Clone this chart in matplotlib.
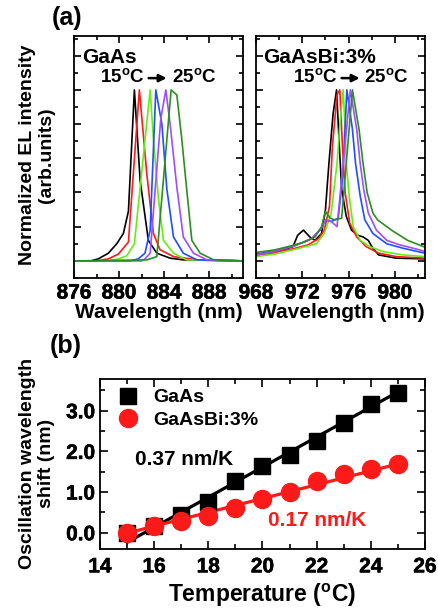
import numpy as np
import matplotlib
matplotlib.use('Agg')
import matplotlib.pyplot as plt
import matplotlib.patheffects as pe
from matplotlib.ticker import MultipleLocator

plt.rcParams['font.family'] = ['Liberation Sans', 'DejaVu Sans']
plt.rcParams['font.weight'] = 'bold'
plt.rcParams['axes.labelweight'] = 'bold'
plt.rcParams['mathtext.fontset'] = 'custom'
plt.rcParams['mathtext.rm'] = 'Liberation Sans:bold'
plt.rcParams['mathtext.bf'] = 'Liberation Sans:bold'

# cores das curvas, de 15 a 25 graus (passo de 2)
cores = ['black', '#ff1a1a', '#66ee11', '#1f4fff', '#a04cff', '#2a8f1f']

# espectros EL normalizados - GaAs
gaas_wl = [
    [876, 877.5, 878.16, 879.05, 879.79, 880.38, 880.83, 881.36, 881.87, 882.6, 883.35, 884.53, 885.7, 891],
    [876, 878, 879.05, 879.94, 880.83, 881.8, 882.46, 883.05, 883.64, 884.83, 887, 891],
    [876, 879.0, 879.94, 880.68, 881.36, 882.76, 883.05, 883.5, 883.94, 884.83, 886.0, 891],
    [876, 881.0, 881.7, 882.3, 882.76, 883.26, 883.8, 884.24, 884.83, 885.7, 886.9, 891],
    [876, 882.0, 882.3, 882.76, 883.7, 884.15, 884.53, 885.13, 885.7, 886.6, 887.8, 891],
    [876, 882.46, 883.35, 884.62, 885.13, 885.57, 886.0, 886.46, 887.2, 888.4, 891],
]
gaas_int = [
    [0, 0, 0.012, 0.045, 0.10, 0.16, 0.29, 1.0, 0.47, 0.12, 0.045, 0.016, 0.006, 0],
    [0, 0, 0.012, 0.04, 0.11, 1.0, 0.51, 0.16, 0.065, 0.025, 0.006, 0],
    [0, 0, 0.012, 0.03, 0.10, 1.0, 0.71, 0.36, 0.12, 0.045, 0.006, 0],
    [0, 0, 0.012, 0.045, 0.18, 1.0, 0.8, 0.42, 0.14, 0.045, 0.006, 0],
    [0, 0, 0.012, 0.045, 0.83, 1.0, 0.8, 0.43, 0.14, 0.045, 0.006, 0],
    [0, 0.006, 0.025, 1.0, 0.97, 0.71, 0.42, 0.12, 0.045, 0.006, 0],
]

# espectros EL normalizados - GaAsBi:3%
bi_wl = [
    [968, 969.6, 971.2, 971.6, 972.1, 972.65, 973.1, 973.66, 974.0, 974.3, 974.66, 974.96, 975.2, 975.4,
     975.8, 976.25, 976.8, 977.25, 977.7, 978.1, 978.6, 980.1, 982.6],
    [968, 969.6, 971.4, 972.5, 973.4, 973.9, 974.35, 974.6, 975.0, 975.24, 975.47, 975.7, 976.1, 976.7,
     977.5, 978.6, 980.1, 982.6],
    [968, 969.6, 971.4, 972.5, 973.2, 973.9, 974.5, 975.0, 975.25, 975.53, 975.7, 975.8, 976.05, 976.4,
     977.0, 977.8, 979.0, 980.7, 982.6],
    [968, 969.6, 971.4, 972.8, 973.66, 974.0, 974.5, 975.1, 975.5, 975.85, 976.33, 976.6, 977.0, 977.4,
     978.1, 979.3, 980.7, 982.6],
    [968, 969.6, 971.4, 972.8, 973.66, 974.0, 974.5, 975.0, 976.15, 976.7, 977.0, 977.3, 977.7, 978.4,
     979.3, 980.4, 981.6, 982.6],
    [968, 969.6, 970.8, 972.2, 973.1, 973.66, 974.0, 974.4, 974.8, 975.4, 976.33, 976.9, 977.25, 977.6,
     978.1, 978.5, 979.7, 981.1, 982.6],
]
bi_int = [
    [0.035, 0.049, 0.084, 0.15, 0.18, 0.14, 0.12, 0.16, 0.30, 0.57, 0.86, 1.0, 0.67, 0.42,
     0.26, 0.18, 0.15, 0.14, 0.12, 0.074, 0.035, 0.016, 0.012],
    [0.035, 0.049, 0.074, 0.094, 0.13, 0.18, 0.32, 0.67, 0.97, 1.0, 0.67, 0.40, 0.22, 0.14,
     0.084, 0.045, 0.025, 0.016],
    [0.025, 0.04, 0.068, 0.088, 0.10, 0.16, 0.28, 0.57, 0.8, 1.0, 0.77, 0.57, 0.38, 0.20,
     0.12, 0.084, 0.054, 0.035, 0.025],
    [0.038, 0.06, 0.09, 0.13, 0.19, 0.24, 0.23, 0.25, 0.5, 1.0, 0.77, 0.57, 0.38, 0.24,
     0.16, 0.10, 0.074, 0.045],
    [0.035, 0.055, 0.09, 0.13, 0.19, 0.24, 0.23, 0.20, 1.0, 0.77, 0.57, 0.42, 0.28, 0.18,
     0.12, 0.094, 0.074, 0.055],
    [0.049, 0.064, 0.084, 0.11, 0.14, 0.20, 0.29, 0.25, 0.24, 0.25, 1.0, 0.77, 0.57, 0.40,
     0.28, 0.24, 0.18, 0.12, 0.08],
]

# deslocamento do comprimento de onda de oscilacao vs temperatura
temperatura = [15, 16, 17, 18, 19, 20, 21, 22, 23, 24, 25]
desloc_gaas = [0.0, 0.17, 0.44, 0.75, 1.26, 1.65, 1.91, 2.26, 2.71, 3.17, 3.43]
desloc_bi = [0.0, 0.17, 0.28, 0.42, 0.60, 0.82, 0.99, 1.27, 1.44, 1.57, 1.69]
inclinacao = [0.37, 0.17]  # nm/K

# marcas dos eixos
ticks_gaas = [876, 880, 884, 888]
ticks_bi = [968, 972, 976, 980]
ticks_temp = [14, 16, 18, 20, 22, 24, 26]
ticks_desloc = [0.0, 1.0, 2.0, 3.0]

fig = plt.figure(figsize=(4.39, 6.13), dpi=100)
W, H = 439, 613

def caixa(x0, y0, x1, y1):
    return [x0 / W, 1 - y1 / H, (x1 - x0) / W, (y1 - y0) / H]

ax1 = fig.add_axes(caixa(74, 36, 243, 278))
ax2 = fig.add_axes(caixa(256, 36, 425, 278))
ax3 = fig.add_axes(caixa(100, 379, 425, 549))

for wl, it, c in zip(gaas_wl, gaas_int, cores):
    ax1.plot(wl, it, color=c, lw=1.2)
for wl, it, c in zip(bi_wl, bi_int, cores):
    ax2.plot(wl, it, color=c, lw=1.2)

ax1.set_xticks(ticks_gaas, [str(v) for v in ticks_gaas], fontsize=15, fontweight='bold')
ax2.set_xticks(ticks_bi, [str(v) for v in ticks_bi], fontsize=15, fontweight='bold')
ax1.set_xlim(876, 891)
ax2.set_xlim(968, 982.6)
for ax in (ax1, ax2):
    ax.set_ylim(-0.1, 1.315)
    ax.xaxis.set_minor_locator(MultipleLocator(2))
    ax.yaxis.set_major_locator(MultipleLocator(0.2))
    ax.yaxis.set_minor_locator(MultipleLocator(0.1))
    ax.tick_params(which='both', direction='in', top=True, right=True, width=1.2)
    ax.tick_params(which='major', length=5, pad=4)
    ax.tick_params(which='minor', length=3)
    ax.tick_params(axis='y', labelleft=False)
    ax.set_xlabel('Wavelength (nm)', fontsize=15, labelpad=0)
    for s in ax.spines.values():
        s.set_linewidth(1.3)

# rotulos dentro dos paineis (a)
faixa = r'%d$^{\mathrm{o}}$C'
ax1.text(0.047, 0.913, 'GaAs', transform=ax1.transAxes, fontsize=15, va='center')
ax1.text(0.154, 0.826, faixa % 15, transform=ax1.transAxes, fontsize=13.5, va='center')
ax1.text(0.58, 0.826, faixa % 25, transform=ax1.transAxes, fontsize=13.5, va='center')
ax1.annotate('', xy=(0.565, 0.826), xytext=(0.425, 0.826), xycoords='axes fraction',
             arrowprops=dict(arrowstyle='-|>', lw=1.8, color='black', mutation_scale=11))
ax2.text(0.041, 0.913, 'GaAsBi:3%', transform=ax2.transAxes, fontsize=15, va='center')
ax2.text(0.219, 0.826, faixa % 15, transform=ax2.transAxes, fontsize=13.5, va='center')
ax2.text(0.64, 0.826, faixa % 25, transform=ax2.transAxes, fontsize=13.5, va='center')
ax2.annotate('', xy=(0.63, 0.826), xytext=(0.49, 0.826), xycoords='axes fraction',
             arrowprops=dict(arrowstyle='-|>', lw=1.8, color='black', mutation_scale=11))

fig.text(37 / W, 1 - 155 / H, 'Normalized EL intensity\n(arb.units)', rotation=90,
         ha='center', va='center', fontsize=14, multialignment='center')
fig.text(67 / W, 1 - 18 / H, '(a)', ha='center', va='center', fontsize=18)
fig.text(66 / W, 1 - 346 / H, '(b)', ha='center', va='center', fontsize=18)

# ajuste linear com a inclinacao indicada
t = np.array(temperatura, dtype=float)
for y, m, c in zip([desloc_gaas, desloc_bi], inclinacao, ['black', '#ff1a1a']):
    b = np.mean(y) - m * t.mean()
    ax3.plot(t, m * t + b, color=c, lw=2.3, zorder=2)

ax3.plot(temperatura, desloc_gaas, 's', color='black', ms=12, label='GaAs', zorder=3)
ax3.plot(temperatura, desloc_bi, 'o', color='#ff1a1a', ms=13, label='GaAsBi:3%', zorder=4)

ax3.text(0.108, 0.525, '%.2f nm/K' % inclinacao[0], transform=ax3.transAxes, fontsize=15,
         color='black', va='center')
ax3.text(0.517, 0.17, '%.2f nm/K' % inclinacao[1], transform=ax3.transAxes, fontsize=15,
         color='#ff1a1a', va='center')

ax3.legend(loc='upper left', frameon=False, fontsize=14, handletextpad=0.7, handlelength=1.2,
           borderaxespad=0.1, labelspacing=0.25, bbox_to_anchor=(0.02, 1.0))
ax3.set_xticks(ticks_temp, [str(v) for v in ticks_temp], fontsize=15, fontweight='bold')
ax3.set_yticks(ticks_desloc, ['%.1f' % v for v in ticks_desloc], fontsize=15, fontweight='bold')
ax3.set_xlim(14, 26)
ax3.set_ylim(-0.4, 3.78)
ax3.xaxis.set_minor_locator(MultipleLocator(1))
ax3.yaxis.set_minor_locator(MultipleLocator(0.5))
ax3.tick_params(which='both', direction='in', top=True, right=True, width=1.2)
ax3.tick_params(which='major', length=6)
ax3.tick_params(which='minor', length=3.5)
ax3.tick_params(axis='x', which='major', pad=6)
for s in ax3.spines.values():
    s.set_linewidth(1.3)
ax3.set_xlabel(r'Temperature ($^{\mathrm{o}}$C)', fontsize=16.5, labelpad=4)
fig.text(37 / W, 1 - 463 / H, 'Oscillation wavelength\nshift (nm)', rotation=90,
         ha='center', va='center', fontsize=14, multialignment='center')

# reforca o traco dos numeros dos eixos
contorno = [pe.withStroke(linewidth=0.4, foreground='black')]
for ax in (ax1, ax2, ax3):
    for lbl in ax.get_xticklabels() + ax.get_yticklabels():
        lbl.set_path_effects(contorno)

fig.savefig('out.png', dpi=100)
